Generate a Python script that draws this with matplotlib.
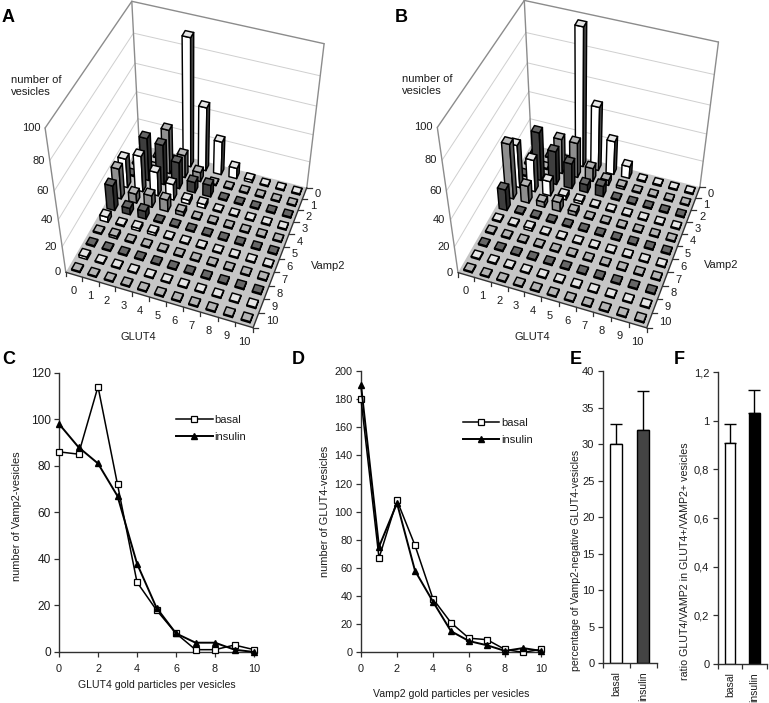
"""Two perspective vesicle histograms (A, B), two line charts (C, D), two bar charts (E, F)."""
import matplotlib

matplotlib.use("Agg")
import matplotlib.pyplot as plt
import numpy as np
from matplotlib.patches import Polygon

W, H = 769, 703
plt.rcParams["font.family"] = ["Liberation Sans", "DejaVu Sans"]
TXT = "#1c1c1c"

# --- data. 3D tables: one row per Vamp2 count, one column per GLUT4 count ---
vamp2_counts = list(range(11))
glut4_counts = list(range(11))
basal_3d = [
    [0, 0, 0, 91, 47, 25, 8, 2, 0, 0, 0],
    [0, 0, 33, 17, 7, 0, 0, 0, 0, 0, 0],
    [0, 32, 30, 20, 8, 9, 0, 0, 0, 0, 0],
    [22, 27, 18, 12, 3, 3, 1, 0, 0, 0, 0],
    [23, 7, 9, 9, 3, 0, 1, 0, 0, 0, 0],
    [19, 5, 6, 0, 0, 0, 0, 0, 0, 0, 0],
    [4, 1, 2, 2, 0, 0, 0, 0, 0, 0, 0],
    [1, 2, 1, 0, 0, 0, 0, 0, 0, 0, 0],
    [0, 0, 0, 0, 0, 0, 0, 0, 0, 0, 0],
    [2, 0, 0, 0, 0, 0, 0, 0, 0, 0, 0],
    [0, 0, 0, 0, 0, 0, 0, 0, 0, 0, 0],
]
insulin_3d = [
    [0, 0, 0, 97, 47, 25, 9, 1, 1, 0, 1],
    [0, 0, 26, 26, 10, 4, 2, 0, 0, 0, 0],
    [0, 36, 25, 19, 6, 8, 0, 0, 0, 0, 0],
    [32, 24, 11, 3, 2, 1, 1, 0, 0, 0, 0],
    [41, 13, 4, 7, 3, 0, 0, 0, 0, 0, 0],
    [16, 0, 1, 1, 1, 0, 0, 0, 0, 0, 0],
    [1, 1, 2, 0, 0, 0, 0, 0, 0, 0, 0],
    [1, 1, 0, 0, 0, 0, 0, 0, 0, 0, 0],
    [0, 0, 0, 0, 0, 0, 0, 0, 0, 0, 0],
    [0, 1, 0, 0, 0, 0, 0, 0, 0, 0, 0],
    [0, 0, 0, 0, 0, 0, 0, 0, 0, 0, 0],
]
z_ticks = [0, 20, 40, 60, 80, 100]

particles = list(range(11))
c_basal = [86, 85, 114, 72, 30, 18, 8, 1, 1, 3, 1]
c_insulin = [98, 88, 81, 67, 38, 19, 8, 4, 4, 1, 0]
d_basal = [180, 67, 108, 76, 38, 21, 10, 9, 2, 0, 2]
d_insulin = [190, 75, 106, 58, 36, 15, 8, 5, 1, 3, 1]

bar_labels = ["basal", "insulin"]
e_values = [30.0, 31.9]
e_errors = [2.7, 5.3]
f_values = [0.91, 1.03]
f_errors = [0.075, 0.095]
f_tick_values = [0, 0.2, 0.4, 0.6, 0.8, 1, 1.2]
f_tick_labels = ["0", "0,2", "0,4", "0,6", "0,8", "1", "1,2"]

# --- layout: pixel corners of each 3D box, (g, v, z) -> pixel ---
BOX_POINTS = [(0, 11, 0), (11, 11, 0), (11, 0, 0), (0, 0, 0), (0, 11, 100), (11, 0, 100), (0, 0, 100)]
A_PIXELS = [(66, 272), (253, 328), (307, 187), (139, 145), (45, 128), (324, 44), (132, 1)]
B_PIXELS = [(458, 272), (647, 328), (700, 187), (531, 145), (437, 128), (718, 42), (525, 0)]
BAR_W = 0.5
Z_MIN = 0.9  # empty cells still show as a flat little box
# front, top, side colour; cycles with Vamp2
CYCLE = [("#ffffff", "#e6e6e6", "#4a4a4a"), ("#8e8e8e", "#b4b4b4", "#5e5e5e"), ("#3e3e3e", "#666666", "#2a2a2a")]


def fit_camera(points, pixels):
    rows, rhs = [], []
    for (x, y, z), (u, v) in zip(points, pixels):
        rows.append([x, y, z, 1, 0, 0, 0, 0, -u * x, -u * y, -u * z]); rhs.append(u)
        rows.append([0, 0, 0, 0, x, y, z, 1, -v * x, -v * y, -v * z]); rhs.append(v)
    sol = np.linalg.lstsq(np.array(rows, float), np.array(rhs, float), rcond=None)[0]
    return np.append(sol, 1.0).reshape(3, 4)


def draw_3d(ax, table, pixels):
    cam = fit_camera(BOX_POINTS, pixels)

    def pr(g, v, z):
        u, w, s = cam @ np.array([g, v, z, 1.0])
        return u / s, w / s

    def face(pts, fc, ec="black", lw=1.05, zorder=2):
        ax.add_patch(Polygon([pr(*p) for p in pts], closed=True, fc=fc, ec=ec, lw=lw, joinstyle="round", zorder=zorder))

    def line(a, b, c, lw, zorder=1.5):
        (x0, y0), (x1, y1) = pr(*a), pr(*b)
        ax.plot([x0, x1], [y0, y1], color=c, lw=lw, zorder=zorder, solid_capstyle="round")

    face([(0, 0, 0), (11, 0, 0), (11, 11, 0), (0, 11, 0)], "#c6c6c6", ec="none", lw=0, zorder=1)
    for z in z_ticks[1:-1]:
        line((0, 11, z), (0, 0, z), "#cfcfcf", 0.7)
        line((0, 0, z), (11, 0, z), "#cfcfcf", 0.7)
    for a, b in [((0, 11, 0), (0, 11, 100)), ((0, 11, 100), (0, 0, 100)), ((0, 0, 100), (11, 0, 100)),
                 ((11, 0, 100), (11, 0, 0)), ((0, 0, 100), (0, 0, 0))]:
        line(a, b, "#8c8c8c", 1.0)
    line((0, 11, 0), (11, 11, 0), "#333333", 1.0)
    line((11, 11, 0), (11, 0, 0), "#333333", 1.0)

    # far cells first
    for v in vamp2_counts:
        front, top, side = CYCLE[v % 3]
        for g in glut4_counts:
            z = max(table[v][g], Z_MIN)
            x0, x1 = g + 0.5 - BAR_W / 2, g + 0.5 + BAR_W / 2
            y0, y1 = v + 0.5 - BAR_W / 2, v + 0.5 + BAR_W / 2
            face([(x0, y1, 0), (x1, y1, 0), (x1, y1, z), (x0, y1, z)], front)
            face([(x1, y1, 0), (x1, y0, 0), (x1, y0, z), (x1, y1, z)], side)
            face([(x0, y0, z), (x1, y0, z), (x1, y1, z), (x0, y1, z)], top)

    for g in range(12):
        x, y = pr(g, 11, 0)
        ax.plot([x, x], [y, y + 4], color="#333333", lw=0.9)
    for v in range(12):
        x, y = pr(11, v, 0)
        ax.plot([x, x + 5], [y, y], color="#333333", lw=0.9)
    for g in glut4_counts:
        x, y = pr(g + 0.5, 11, 0)
        ax.text(x, y + 16.5, str(g), ha="center", va="center", fontsize=8, color=TXT)
    for v in vamp2_counts:
        x, y = pr(11, v + 0.5, 0)
        ax.text(x + 10, y + 1, str(v), ha="left", va="center", fontsize=8, color=TXT)
    for z in z_ticks:
        x, y = pr(0, 11, z)
        ax.text(x - 5, y, str(z), ha="right", va="center", fontsize=8, color=TXT)


def px_axes(fig, left, right, top, bottom):
    ax = fig.add_axes([left / W, 1 - bottom / H, (right - left) / W, (bottom - top) / H])
    ax.patch.set_alpha(0)
    ax.spines["top"].set_visible(False)
    ax.spines["right"].set_visible(False)
    for s in ("left", "bottom"):
        ax.spines[s].set_color("#303030")
        ax.spines[s].set_linewidth(1.0)
    ax.tick_params(colors=TXT, color="#303030", length=3.5, width=0.9, pad=2.5)
    return ax


def draw_lines(ax, basal, insulin, ymax, ystep, xlabel, ylabel, ylabel_x, xlabel_y, legend_at):
    ax.plot(particles, basal, "-s", color="black", lw=1.1, ms=4.6, mfc="white", mec="black", mew=0.9,
            label="basal", clip_on=False, zorder=3)
    ax.plot(particles, insulin, "-^", color="black", lw=1.4, ms=4.6, mfc="black", mec="black",
            label="insulin", clip_on=False, zorder=4)
    ax.set_xlim(0, 10)
    ax.set_ylim(0, ymax)
    ax.set_xticks(range(0, 11, 2))
    ax.set_yticks(range(0, ymax + 1, ystep))
    ax.tick_params(axis="x", labelsize=7.8, pad=5)
    ax.tick_params(axis="y", labelsize=8.6 if ymax == 120 else 7.8)
    ax.set_xlabel(xlabel, fontsize=7.6, color=TXT)
    ax.set_ylabel(ylabel, fontsize=7.9, color=TXT)
    ax.xaxis.set_label_coords(0.5, xlabel_y)
    ax.yaxis.set_label_coords(ylabel_x, 0.5 if ymax == 200 else 0.485)
    ax.legend(loc="upper left", bbox_to_anchor=legend_at, frameon=False, fontsize=8, handlelength=3.3,
              handletextpad=0.15, labelspacing=0.62, borderpad=0, borderaxespad=0, labelcolor=TXT)


def draw_bars(ax, values, errors, colors, ymax, ylabel, ylabel_x, ylabel_y, ylabel_size):
    pos = [0, 1]
    ax.bar(pos, values, width=0.43, color=colors, edgecolor="black", lw=1.0, zorder=2)
    ax.errorbar(pos, values, yerr=[[0, 0], errors], fmt="none", ecolor="black", elinewidth=1.0,
                capsize=4.2, capthick=1.0, zorder=1)
    ax.set_xlim(-0.5, 1.5)
    ax.set_ylim(0, ymax)
    ax.set_xticks([-0.5, 0.5, 1.5])
    ax.set_xticklabels(["", "", ""])
    for p, lab in zip(pos, bar_labels):
        ax.text(p, -0.027, lab, transform=ax.get_xaxis_transform(), rotation=90, ha="center", va="top",
                fontsize=7.5, color=TXT)
    ax.tick_params(axis="y", labelsize=8)
    ax.set_ylabel(ylabel, fontsize=ylabel_size, color=TXT)
    ax.yaxis.set_label_coords(ylabel_x, ylabel_y)


def main():
    fig = plt.figure(figsize=(W / 100, H / 100), dpi=100, facecolor="white")
    canvas = fig.add_axes([0, 0, 1, 1])
    canvas.set_xlim(0, W)
    canvas.set_ylim(H, 0)
    canvas.axis("off")

    draw_3d(canvas, basal_3d, A_PIXELS)
    draw_3d(canvas, insulin_3d, B_PIXELS)
    for x, y, gx, gy, vx, vy in [(11, 86, 138, 337, 311, 266), (402, 85, 532, 337, 704, 265)]:
        canvas.text(x, y, "number of\nvesicles", fontsize=8, color=TXT, ha="left", va="center", linespacing=1.25)
        canvas.text(gx, gy, "GLUT4", fontsize=8, color=TXT, ha="center", va="center")
        canvas.text(vx, vy, "Vamp2", fontsize=8, color=TXT, ha="left", va="center")
    for letter, x, y in [("A", 2, 17), ("B", 395, 17), ("C", 2, 359), ("D", 292, 359), ("E", 570, 359), ("F", 674, 359)]:
        canvas.text(x, y, letter, fontsize=13, fontweight="bold", color="black", ha="left", va="center")

    draw_lines(px_axes(fig, 59, 254, 372.7, 652), c_basal, c_insulin, 120, 20,
               "GLUT4 gold particles per vesicles", "number of Vamp2-vesicles", -0.19, -0.1, (0.6, 0.849))
    draw_lines(px_axes(fig, 361, 541, 371, 652.3), d_basal, d_insulin, 200, 20,
               "Vamp2 gold particles per vesicles", "number of GLUT4-vesicles", -0.172, -0.13, (0.565, 0.832))
    draw_bars(px_axes(fig, 602.7, 656.7, 371, 663.3), e_values, e_errors, ["white", "#444444"], 40,
              "percentage of Vamp2-negative GLUT4-vesicles", -0.40, 0.353, 7.6)
    ax = px_axes(fig, 717.7, 766.7, 372, 664)
    draw_bars(ax, f_values, f_errors, ["white", "black"], 1.2,
              "ratio GLUT4/VAMP2 in GLUT4+/VAMP2+ vesicles", -0.565, 0.353, 7.7)
    ax.set_yticks(f_tick_values)
    ax.set_yticklabels(f_tick_labels)

    fig.savefig("out.png", dpi=100, facecolor="white")


if __name__ == "__main__":
    main()
